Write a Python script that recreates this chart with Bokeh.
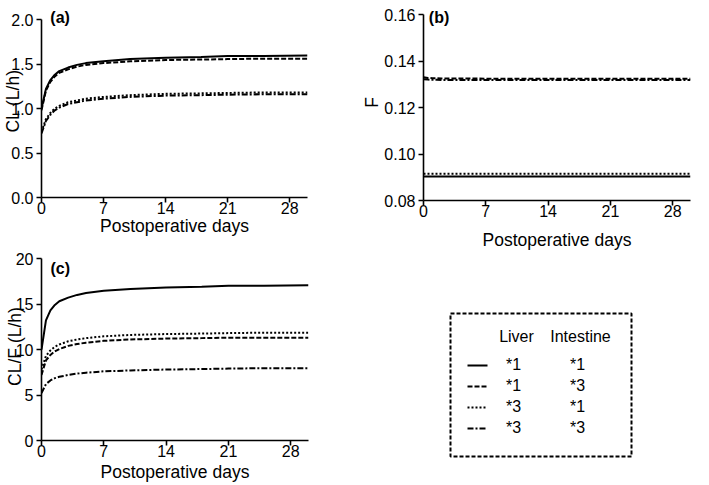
from bokeh.plotting import figure
from bokeh.models import Range1d, FixedTicker, PrintfTickFormatter, Label
from bokeh.layouts import row, column
from bokeh.embed import file_html
from bokeh.resources import INLINE
from bokeh.core.properties import value

FONT = "Liberation Sans"

# ---------------- data ----------------
days = [0, 0.5, 1, 1.5, 2, 3, 4, 5, 7, 10, 14, 18, 21, 25, 30]

liver = ["*1", "*1", "*3", "*3"]
intestine = ["*1", "*3", "*1", "*3"]

# (a) CL (L/h)
cl_11 = [1.00, 1.22, 1.32, 1.38, 1.42, 1.46, 1.49, 1.51, 1.53, 1.555, 1.57, 1.58, 1.59, 1.59, 1.595]
cl_13 = [0.98, 1.20, 1.30, 1.36, 1.40, 1.44, 1.47, 1.49, 1.51, 1.530, 1.545, 1.55, 1.555, 1.56, 1.56]
cl_31 = [0.74, 0.88, 0.95, 1.00, 1.03, 1.07, 1.09, 1.11, 1.13, 1.150, 1.165, 1.17, 1.175, 1.18, 1.18]
cl_33 = [0.72, 0.86, 0.93, 0.98, 1.01, 1.05, 1.07, 1.09, 1.11, 1.130, 1.145, 1.15, 1.155, 1.16, 1.16]

# (b) F
f_11 = [0.0903] * 15
f_13 = [0.1330, 0.1327, 0.1326, 0.1326, 0.1325, 0.1325, 0.1325, 0.1325, 0.1324, 0.1324, 0.1324, 0.1324, 0.1324, 0.1324, 0.1324]
f_31 = [0.0915] * 15
f_33 = [0.1322, 0.1320, 0.1319, 0.1319, 0.1318, 0.1318, 0.1318, 0.1318, 0.1318, 0.1318, 0.1318, 0.1318, 0.1318, 0.1318, 0.1318]

# (c) CL/F (L/h)
clf_11 = [10.0, 13.2, 14.3, 14.9, 15.3, 15.7, 16.0, 16.2, 16.45, 16.65, 16.8, 16.9, 17.0, 17.0, 17.05]
clf_13 = [7.2, 8.8, 9.4, 9.8, 10.05, 10.4, 10.6, 10.75, 10.95, 11.1, 11.2, 11.25, 11.3, 11.3, 11.3]
clf_31 = [7.8, 9.3, 9.9, 10.3, 10.55, 10.9, 11.1, 11.25, 11.45, 11.6, 11.7, 11.75, 11.8, 11.85, 11.85]
clf_33 = [5.2, 6.2, 6.6, 6.85, 7.0, 7.2, 7.35, 7.45, 7.6, 7.7, 7.8, 7.85, 7.9, 7.95, 7.95]

x_ticks = [0, 7, 14, 21, 28]
cl_ticks = [0.0, 0.5, 1.0, 1.5, 2.0]
f_ticks = [0.08, 0.10, 0.12, 0.14, 0.16]
clf_ticks = [0, 5, 10, 15, 20]

DASHES = ["solid", "5 2", "2 2", "6 2 2 2"]


def make_panel(fw, fh, pad, bl, br, bt, bb, yr, yticks, yfmt, ylabel, ystand, xstand,
               tag, tag_x, tag_yoff, series):
    ymin, ymax = yr
    ytop = ymax + (ymax - ymin) * pad / fh  # empty pixels above the axis end
    p = figure(frame_width=fw, frame_height=fh + pad,
               min_border_left=bl, min_border_right=br,
               min_border_top=bt, min_border_bottom=bb,
               x_range=Range1d(0, 30), y_range=Range1d(ymin, ytop),
               output_backend="svg", toolbar_location=None)
    p.xgrid.visible = False
    p.ygrid.visible = False
    p.outline_line_color = None
    p.background_fill_color = "white"
    p.border_fill_color = "white"
    for ax in (p.xaxis[0], p.yaxis[0]):
        ax.axis_line_width = 1.6
        ax.axis_line_color = "black"
        ax.major_tick_line_width = 1.6
        ax.major_tick_line_color = "black"
        ax.major_tick_in = 0
        ax.major_tick_out = 5
        ax.minor_tick_line_color = None
        ax.major_label_text_font = FONT
        ax.major_label_text_font_size = "16px"
        ax.major_label_text_color = "black"
        ax.axis_label_text_font = FONT
        ax.axis_label_text_font_size = "17.5px"
        ax.axis_label_text_font_style = "normal"
        ax.axis_label_text_color = "black"
    p.yaxis.bounds = (ymin, ymax)
    p.xaxis.ticker = FixedTicker(ticks=x_ticks)
    p.yaxis.ticker = FixedTicker(ticks=yticks)
    p.yaxis.formatter = PrintfTickFormatter(format=yfmt)
    p.xaxis.axis_label = "Postoperative days"
    p.yaxis.axis_label = ylabel
    p.xaxis.major_label_standoff = -1
    p.yaxis.major_label_standoff = 3
    p.yaxis.axis_label_standoff = ystand
    p.xaxis.axis_label_standoff = xstand
    for ys, dash in zip(series, DASHES):
        p.line(days, ys, line_color="black", line_width=2, line_dash=dash)
    p.add_layout(Label(x=tag_x, y=ymax, y_offset=tag_yoff, text=tag,
                       text_font=FONT, text_font_size="16px",
                       text_font_style="bold", text_baseline="alphabetic",
                       text_color="black"))
    return p


pa = make_panel(266, 178, 15, 33, 31, 4, 43, (0, 2.0), cl_ticks, "%.1f", "CL (L/h)",
                -15, -1, "(a)", 1.0, 2, [cl_11, cl_13, cl_31, cl_33])
pc = make_panel(267, 182, 6, 32, 31, 12, 37, (0, 20), clf_ticks, "%d", "CL/F (L/h)",
                -12, 2, "(c)", 1.0, -10, [clf_11, clf_13, clf_31, clf_33])
pb = make_panel(267, 186, 10, 85, 11, 4, 55, (0.08, 0.16), f_ticks, "%.2f", "F",
                -1, 10, "(b)", 0.6, -3, [f_11, f_13, f_31, f_33])

# ---------------- legend panel (coordinates = screen pixels) ----------------
pl = figure(frame_width=267, frame_height=222, min_border_left=85, min_border_right=11,
            min_border_top=0, min_border_bottom=0,
            x_range=Range1d(423, 690), y_range=Range1d(477, 255),
            x_axis_type=None, y_axis_type=None,
            output_backend="svg", toolbar_location=None)
pl.xgrid.visible = False
pl.ygrid.visible = False
pl.outline_line_color = None
pl.background_fill_color = "white"
pl.border_fill_color = "white"
pl.quad(left=[450], right=[631], top=[313], bottom=[456], fill_color=None,
        line_color="black", line_width=2, line_dash="4 2")
pl.text(x=[516, 580], y=[336, 336], text=["Liver", "Intestine"],
        text_font=value(FONT), text_font_size="16px", text_align="center",
        text_baseline="middle", text_color="black")
row_y = [364 + 21 * i for i in range(4)]
pl.text(x=[513] * 4, y=row_y, text=liver, text_font=value(FONT), text_font_size="16px",
        text_align="center", text_baseline="middle", text_color="black")
pl.text(x=[577] * 4, y=row_y, text=intestine, text_font=value(FONT), text_font_size="16px",
        text_align="center", text_baseline="middle", text_color="black")
for yy, dash in zip(row_y, DASHES):
    pl.line([467, 487], [yy + 1, yy + 1], line_color="black", line_width=2, line_dash=dash)

layout = row(column(pa, pc), column(pb, pl))

with open("out.html", "w") as fh:
    fh.write(file_html(layout, INLINE))
